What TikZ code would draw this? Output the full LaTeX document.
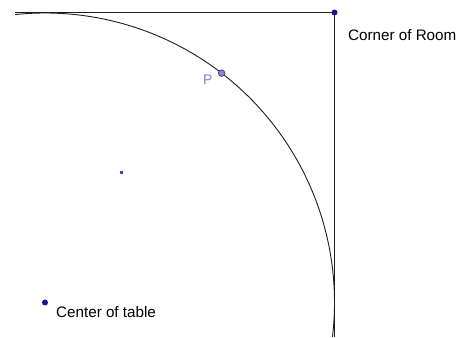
\documentclass[tikz,border=0pt]{standalone}
\usepackage{fontspec}
\setmainfont{Liberation Sans}
\definecolor{ptblue}{RGB}{20,20,150}
\definecolor{pfill}{RGB}{135,135,235}
\definecolor{pline}{RGB}{70,70,110}
\definecolor{plabel}{RGB}{125,125,220}
\definecolor{markblue}{RGB}{40,80,205}
\definecolor{linegray}{RGB}{30,30,30}
\begin{document}
\begin{tikzpicture}[x=1pt,y=1pt,
  geo/.style={draw=linegray,line width=0.9pt},
  bigdot/.style={circle,fill=ptblue,inner sep=0pt,minimum size=6pt},
  pdot/.style={circle,fill=pfill,draw=pline,line width=0.8pt,inner sep=0pt,minimum size=6.5pt},
  lbl/.style={inner sep=0pt,font=\fontsize{15.2}{18}\selectfont,text=black}]
\useasboundingbox (0,0) rectangle (468,337);
\coordinate (ctr) at (45,34.5);
\coordinate (topleft) at (15,324.5);
\coordinate (corner) at (334.5,324.5);
\coordinate (bottom) at (334.5,0);
% lines
\draw[geo] (topleft) -- (corner) -- (bottom);
\draw[geo] ([shift={(95.95:289.5)}]ctr) arc[start angle=95.95,end angle=-6.84,radius=289.5];
% points
\node[bigdot] (cornerdot) at (corner) {};
\node[bigdot] (ctrdot) at (ctr) {};
\node[pdot] (P) at ([shift={(52.4:289.5)}]ctr) {};
\node[inner sep=0pt,anchor=base west,font=\fontsize{14}{16}\selectfont,text=plabel] (Plabel) at (203,252) {P};
\node[fill=markblue,inner sep=0pt,minimum size=2.5pt] (mark) at (121.5,164.5) {};
% labels
\node[lbl,anchor=base west] (cornerlbl) at (348,296) {Corner of Room};
\node[lbl,anchor=base west] (ctrlbl) at (56,19.5) {Center of table};
\end{tikzpicture}
\end{document}
